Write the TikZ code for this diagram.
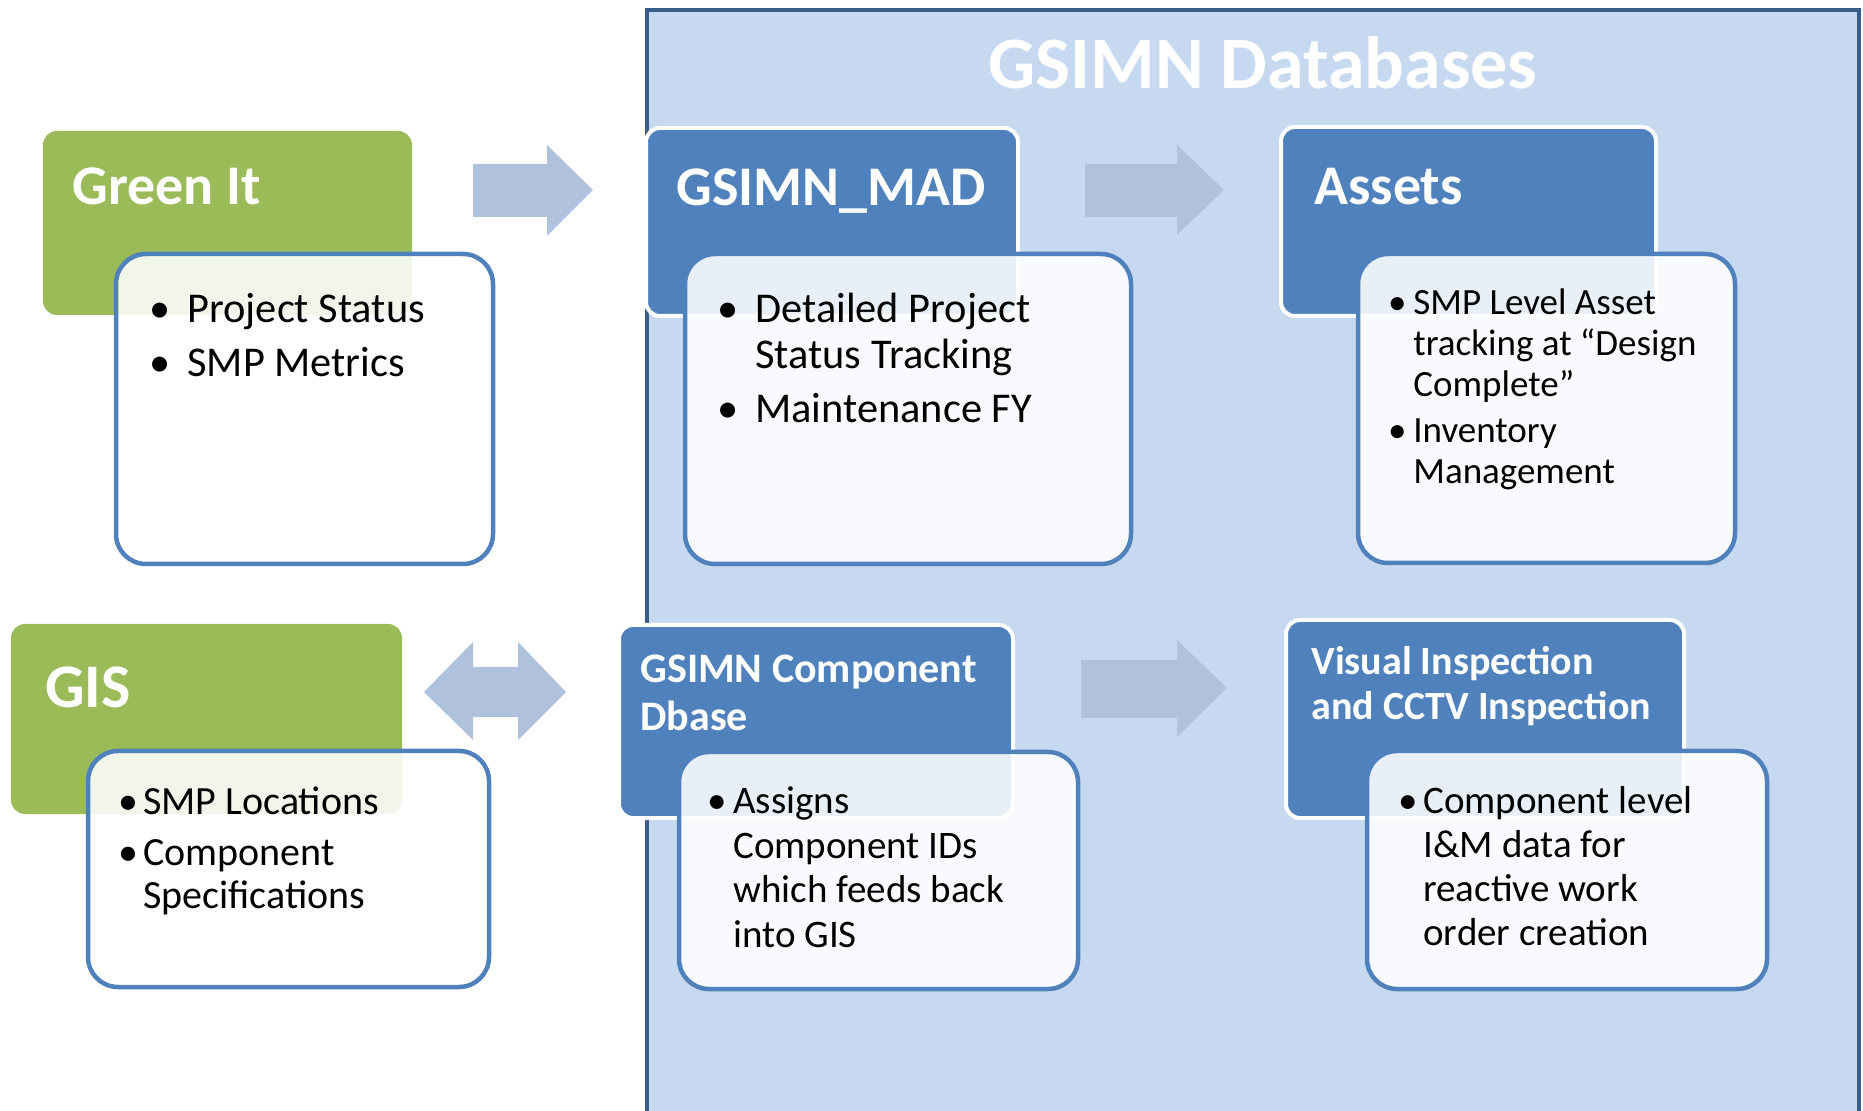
\documentclass[tikz,border=0pt]{standalone}
\usepackage{fontspec}
\setmainfont{Carlito}
\usetikzlibrary{fit}

\definecolor{hdrblue}{HTML}{4F81BD}
\definecolor{hdrgreen}{HTML}{9BBB59}
\definecolor{panelfill}{HTML}{C6D9F1}
\definecolor{paneledge}{HTML}{385D8A}
\definecolor{arrowfill}{HTML}{B0C1DE}

\newcommand{\bul}[1]{\llap{\makebox[0pt]{\textbullet}\hspace{#1}}}

\tikzset{
  hdr/.style={rounded corners=7pt, inner sep=0pt},
  bluehdr/.style={hdr, fill=hdrblue, draw=white, line width=2pt},
  greenhdr/.style={hdr, fill=hdrgreen},
  bodybox/.style={rounded corners=15pt, inner sep=0pt, draw=hdrblue, line width=2.25pt, fill=white, fill opacity=0.88},
  hdrtext/.style={text=white, inner sep=0pt, anchor=base west, align=left},
  bodytext/.style={inner sep=0pt, anchor=base west, align=left},
  blockarrow/.style={fill=arrowfill},
}

\begin{document}
\begin{tikzpicture}[x=0.5pt, y=-0.5pt]
\useasboundingbox (0,0) rectangle (1863,1111);

% database panel
\fill[panelfill] (645,8) rectangle (1861,1111);
\draw[paneledge, line width=2pt] (647,1111) -- (647,10) -- (1859,10) -- (1859,1111);
\node[text=white, anchor=base, inner sep=0pt, font=\fontsize{37}{44}\selectfont\bfseries] (dbtitle) at (1263,89) {GSIMN Databases};

% block arrows
\fill[blockarrow] (473,164) -- (547,164) -- (547,145) -- (593,190) -- (547,236) -- (547,217) -- (473,217) -- cycle;
\fill[blockarrow] (1085,164) -- (1177,164) -- (1177,145) -- (1224,190) -- (1177,235) -- (1177,217) -- (1085,217) -- cycle;
\fill[blockarrow] (1081,660) -- (1177,660) -- (1177,640) -- (1227,688) -- (1177,737) -- (1177,718) -- (1081,718) -- cycle;
\fill[blockarrow] (424,692) -- (473,642) -- (473,667) -- (518,667) -- (518,642) -- (566,692)
  -- (518,740) -- (518,717) -- (473,717) -- (473,740) -- cycle;

% headers
\node[greenhdr, fit={(43,131) (412,315)}] (greenit) {};
\node[bluehdr, fit={(646,128) (1018,316)}] (mad) {};
\node[bluehdr, fit={(1281,127) (1656,316)}] (assets) {};
\node[greenhdr, fit={(11,624) (402,814)}] (gis) {};
\node[bluehdr, fit={(619,625) (1013,818)}] (comp) {};
\node[bluehdr, fit={(1286,620) (1684,818)}] (visual) {};

\node[hdrtext, font=\fontsize{28}{33}\selectfont\bfseries] (greenit-t) at (72,205) {Green It};
\node[hdrtext, font=\fontsize{28}{33}\selectfont\bfseries] (mad-t) at (676,206) {GSIMN\_MAD};
\node[hdrtext, font=\fontsize{28}{33}\selectfont\bfseries] (assets-t) at (1314,205) {Assets};
\node[hdrtext, font=\fontsize{31}{36}\selectfont\bfseries] (gis-t) at (45,708) {GIS};
\node[hdrtext, font=\fontsize{21}{24}\selectfont\bfseries] (comp-t) at (640,731) {GSIMN Component\\Dbase};
\node[hdrtext, font=\fontsize{20}{22}\selectfont\bfseries] (visual-t) at (1311,719) {Visual Inspection\\and CCTV Inspection};

% detail boxes
\node[bodybox, fit={(116,254) (493,564)}] (greenit-b) {};
\node[bodybox, fit={(685,254) (1131,564)}] (mad-b) {};
\node[bodybox, fit={(1358,254) (1735,563)}] (assets-b) {};
\node[bodybox, fit={(88,751) (489,987)}] (gis-b) {};
\node[bodybox, fit={(679,752) (1078,989)}] (comp-b) {};
\node[bodybox, fit={(1367,751) (1767,989)}] (visual-b) {};

\node[bodytext, font=\fontsize{21.2}{23}\selectfont] (greenit-l) at (187,377)
  {\bul{13.5pt}Project Status\\[4pt]\bul{13.5pt}SMP Metrics};
\node[bodytext, font=\fontsize{21.2}{23}\selectfont] (mad-l) at (755,423)
  {\bul{13.5pt}Detailed Project\\Status Tracking\\[4pt]\bul{13.5pt}Maintenance FY};
\node[bodytext, font=\fontsize{18.5}{20.5}\selectfont] (assets-l) at (1413,484)
  {\bul{8pt}SMP Level Asset\\tracking at “Design\\Complete”\\[2.5pt]\bul{8pt}Inventory\\Management};
\node[bodytext, font=\fontsize{20}{21.5}\selectfont] (gis-l) at (143,908)
  {\bul{7.5pt}SMP Locations\\[4pt]\bul{7.5pt}Component\\Specifications};
\node[bodytext, font=\fontsize{19.5}{22.2}\selectfont] (comp-l) at (733,947)
  {\bul{8pt}Assigns\\Component IDs\\which feeds back\\into GIS};
\node[bodytext, font=\fontsize{19.5}{22}\selectfont] (visual-l) at (1423,945)
  {\bul{7.5pt}Component level\\I\&M data for\\reactive work\\order creation};
\end{tikzpicture}
\end{document}
